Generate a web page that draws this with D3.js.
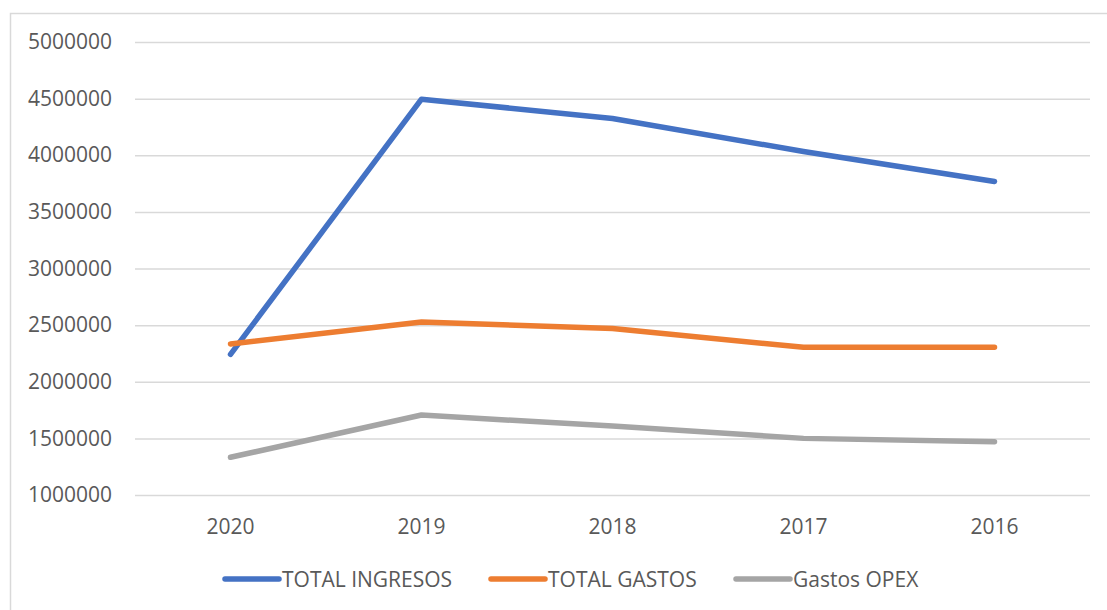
<!DOCTYPE html>
<html>
<head>
<meta charset="utf-8">
<script src="https://cdn.jsdelivr.net/npm/d3@7"></script>
<style>
    body { margin: 0; background: #fff; }
    text { font-family: "Open Sans", "DejaVu Sans", sans-serif; fill: #595959; }
</style>
</head>
<body>
<script>
var years = ["2020", "2019", "2018", "2017", "2016"];
var seriesNames = ["TOTAL INGRESOS", "TOTAL GASTOS", "Gastos OPEX"];
var ingresos = [2242000, 4495000, 4325000, 4033000, 3769000];
var gastos = [2333000, 2527000, 2471000, 2304000, 2304000];
var opex = [1333000, 1706000, 1609000, 1500000, 1470000];
var yTicks = [1000000, 1500000, 2000000, 2500000, 3000000, 3500000, 4000000, 4500000, 5000000];
var colors = ["#4472C4", "#ED7D31", "#A5A5A5"];

var series = [ingresos, gastos, opex];

var w = 1107, h = 610;
var margin = {top: 42, left: 135, right: 17, bottom: 115};

var svg = d3.select("body").append("svg")
    .attr("width", w)
    .attr("height", h);

// chart frame
svg.append("rect")
    .attr("x", 10.5)
    .attr("y", 13.5)
    .attr("width", w)
    .attr("height", h)
    .attr("fill", "none")
    .attr("stroke", "#D9D9D9")
    .attr("stroke-width", 1.5);

var x = d3.scaleBand()
    .domain(years)
    .range([margin.left, w - margin.right]);

var y = d3.scaleLinear()
    .domain([1000000, 5000000])
    .range([h - margin.bottom, margin.top]);

// gridlines + y labels
var yAxis = d3.axisLeft(y)
    .tickValues(yTicks)
    .tickSize(-(w - margin.left - margin.right))
    .tickPadding(23)
    .tickFormat(d3.format("d"));

var gy = svg.append("g")
    .attr("transform", "translate(" + margin.left + ",0)")
    .call(yAxis);
gy.select(".domain").remove();
gy.selectAll(".tick line")
    .attr("stroke", "#D9D9D9")
    .attr("stroke-width", 1.5);
gy.selectAll(".tick text")
    .style("font-size", "21px")
    .attr("fill", "#595959");

// x labels
var xAxis = d3.axisBottom(x).tickSize(0).tickPadding(0);
var gx = svg.append("g")
    .attr("transform", "translate(0," + (h - margin.bottom) + ")")
    .call(xAxis);
gx.select(".domain").remove();
gx.selectAll(".tick text")
    .attr("y", 39)
    .attr("dy", 0)
    .style("font-size", "21px")
    .attr("fill", "#595959");

// lines
var line = d3.line()
    .x(function (d, i) { return x(years[i]) + x.bandwidth() / 2; })
    .y(function (d) { return y(d); });

svg.selectAll(".serie")
    .data(series)
    .enter()
    .append("path")
    .classed("serie", true)
    .attr("d", line)
    .attr("fill", "none")
    .attr("stroke", function (d, i) { return colors[i]; })
    .attr("stroke-width", 5.5)
    .attr("stroke-linecap", "round")
    .attr("stroke-linejoin", "round");

// legend
var legendX = [225, 491, 736];
var legend = svg.selectAll(".legend")
    .data(seriesNames)
    .enter()
    .append("g")
    .classed("legend", true)
    .attr("transform", function (d, i) { return "translate(" + legendX[i] + ",579)"; });

legend.append("line")
    .attr("x1", 0)
    .attr("x2", 54)
    .attr("stroke", function (d, i) { return colors[i]; })
    .attr("stroke-width", 5.5)
    .attr("stroke-linecap", "round");

legend.append("text")
    .attr("x", 57)
    .attr("y", 7.5)
    .style("font-size", "21px")
    .text(function (d) { return d; });
</script>
</body>
</html>
